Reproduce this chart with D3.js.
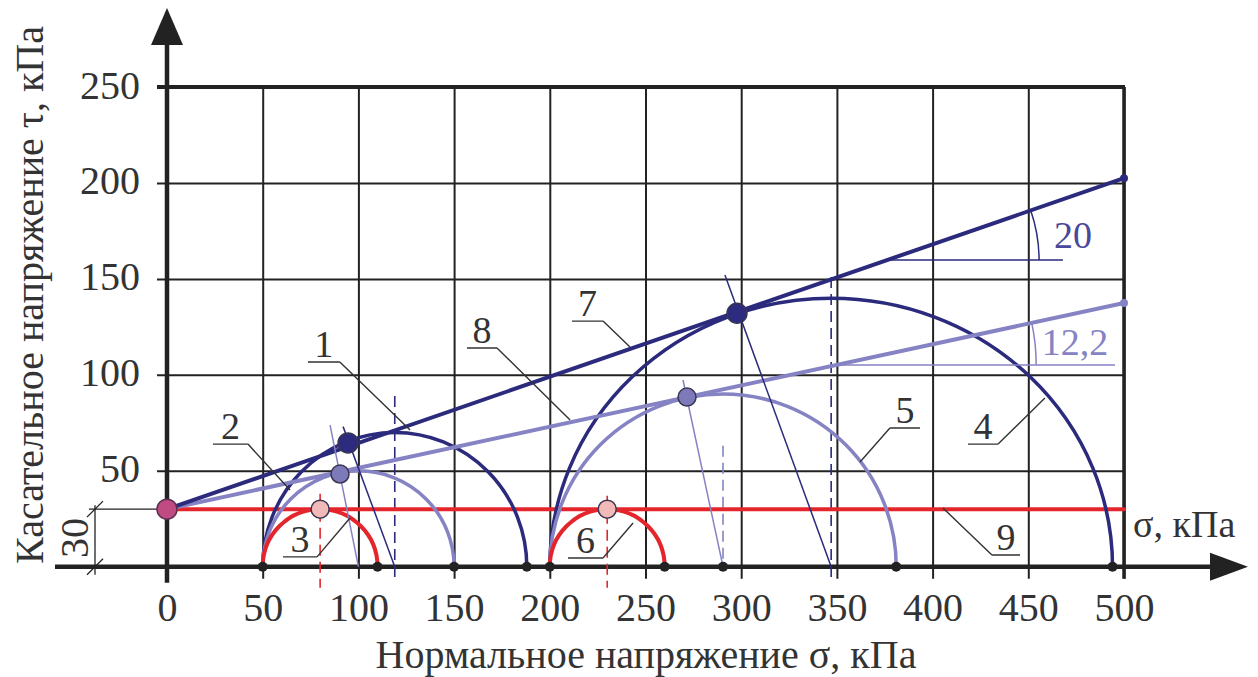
<!DOCTYPE html>
<html>
<head>
<meta charset="utf-8">
<script src="https://cdn.jsdelivr.net/npm/d3@7"></script>
<style>
  body { margin: 0; background: #fff; }
  text { font-family: "Liberation Serif", "DejaVu Serif", "Noto Serif", serif; }
</style>
</head>
<body>
<div id="mohr_chart"></div>
<script>
// tick values of both axes (kPa)
const sigmaTicks = [0, 50, 100, 150, 200, 250, 300, 350, 400, 450, 500]
const tauTicks = [50, 100, 150, 200, 250]

// Mohr semicircles: left end, right end and top
const circleNames = ["1", "2", "3", "4", "5", "6"]
const circleKind = ["navy", "lavender", "red", "navy", "lavender", "red"]
const circleLeft = [50, 50, 50, 200, 200, 200]
const circleRight = [188, 150, 110, 494, 381, 260]
const circleTop = [70, 50, 30, 140, 90, 30]

// tangent points of the circles with the envelopes
const tangentSigma = [94.6, 90.4, 80, 297.8, 271.7, 230]
const tangentTau = [64.5, 48.3, 30, 132.1, 88.4, 30]

// thin radius lines from the centre through the tangent point
const radiusEndSigma = [92, 85.2, null, 291.5, 269.6, null]
const radiusEndTau = [73, 73.8, null, 152, 97.3, null]

// dashed verticals through the centres
const dashTop = [89, null, 38, 151, 63, 37]
const dashBottom = [-5.5, null, -11, -5.5, 0, -11]

// strength envelopes: tau at sigma = 0 and sigma = 500
const envelopeNames = ["7", "8", "9"]
const envelopeKind = ["navy", "lavender", "red"]
const envelopeStart = [30, 30, 30]
const envelopeEnd = [202.5, 137.4, 30]

// friction angle marks
const angleLabels = ["20", "12,2"]
const angleKind = ["navy", "lavender"]
const angleRefTau = [159.8, 105.1]
const angleRefEnd = [468.1, 495.3]
const angleArcRadius = [79.4, 104.5]
const angleTextSigma = [473.3, 474.4]
const angleTextTau = [166.1, 110.3]

// points marked on the sigma axis
const axisDots = [50, 110, 150, 188, 200, 260, 290.5, 381, 494]

// numbered callouts: underline (left, right, tau) and pointer target
const calloutText = ["1", "2", "3", "4", "5", "6", "7", "8", "9"]
const calloutLeft = [73.6, 24.0, 60.6, 418.5, 377.7, 209.5, 211.6, 156.7, 431.0]
const calloutRight = [90.3, 42.3, 78.4, 434.2, 393.4, 227.8, 227.8, 172.4, 445.7]
const calloutTau = [106.7, 63.9, 5.1, 63.9, 72.3, 4.5, 128.0, 114.0, 6.1]
const pointerSigma = [127.0, 64.3, 95.6, 458.7, 362.1, 243.5, 241.9, 210.6, 405.4]
const pointerTau = [71.2, 40.0, 25.4, 87.9, 54.6, 22.8, 114.5, 76.5, 30.6]

const colors = { navy: "#2b2a7c", lavender: "#8583c4", red: "#e4262c" }
const ink = "#222"
const serif = '"Liberation Serif", "DejaVu Serif", "Noto Serif", serif'

const W = 1258, H = 677

const svg = d3.select("#mohr_chart")
  .append("svg")
    .attr("width", W)
    .attr("height", H)
    .style("display", "block")
    .style("background", "#fff")

// scales (same kPa/px on both axes)
const x = d3.scaleLinear().domain([0, 500]).range([167, 1124])
const y = d3.scaleLinear().domain([0, 250]).range([566.7, 87])

const gridH = y(0) - y(250)
const gridW = x(500) - x(0)

// vertical grid + sigma tick labels
const xAxis = svg.append("g")
    .attr("transform", `translate(0,${y(0)})`)
    .call(d3.axisBottom(x).tickValues(sigmaTicks).tickSizeOuter(0))
xAxis.attr("font-family", serif)
xAxis.select(".domain").remove()
xAxis.selectAll(".tick line")
    .attr("y1", 12).attr("y2", -gridH)
    .attr("stroke", ink).attr("stroke-width", 2)
xAxis.selectAll(".tick text")
    .attr("y", 54).attr("dy", 0)
    .attr("fill", "#333")
    .style("font-size", "40px")

// horizontal grid + tau tick labels
const yAxis = svg.append("g")
    .attr("transform", `translate(${x(0)},0)`)
    .call(d3.axisLeft(y).tickValues(tauTicks).tickSizeOuter(0))
yAxis.attr("font-family", serif)
yAxis.select(".domain").remove()
yAxis.selectAll(".tick line")
    .attr("x1", -10).attr("x2", gridW)
    .attr("stroke", ink).attr("stroke-width", 2)
yAxis.selectAll(".tick text")
    .attr("x", -27).attr("dy", 11)
    .attr("fill", "#333")
    .style("font-size", "40px")

// heavy frame on top and right
svg.append("line")
    .attr("x1", x(0) - 10).attr("x2", x(500) + 1)
    .attr("y1", y(250)).attr("y2", y(250))
    .attr("stroke", ink).attr("stroke-width", 4)
svg.append("line")
    .attr("x1", x(500)).attr("x2", x(500))
    .attr("y1", y(250)).attr("y2", y(0) + 12)
    .attr("stroke", ink).attr("stroke-width", 3.5)

// main axes with arrows
svg.append("line")
    .attr("x1", 55).attr("x2", 1215)
    .attr("y1", y(0)).attr("y2", y(0))
    .attr("stroke", ink).attr("stroke-width", 4.5)
svg.append("path")
    .attr("d", `M1248,${y(0)} L1210,${y(0) - 14} L1210,${y(0) + 14} Z`)
    .attr("fill", ink)
svg.append("line")
    .attr("x1", x(0)).attr("x2", x(0))
    .attr("y1", y(0) + 16).attr("y2", 40)
    .attr("stroke", ink).attr("stroke-width", 4.5)
svg.append("path")
    .attr("d", `M${x(0)},8 L${x(0) - 16},45 L${x(0) + 16},45 Z`)
    .attr("fill", ink)

// dimension "30" on the left
const dimX = x(0) - 72
svg.append("line")
    .attr("x1", dimX - 6).attr("x2", x(0))
    .attr("y1", y(30)).attr("y2", y(30))
    .attr("stroke", ink).attr("stroke-width", 1.3)
svg.append("line")
    .attr("x1", dimX).attr("x2", dimX)
    .attr("y1", y(30) - 4).attr("y2", y(0) + 8)
    .attr("stroke", ink).attr("stroke-width", 1.3)
;[30, 0].forEach(v => {
  svg.append("line")
      .attr("x1", dimX - 8).attr("x2", dimX + 8)
      .attr("y1", y(v) + 8).attr("y2", y(v) - 8)
      .attr("stroke", ink).attr("stroke-width", 1.3)
})
svg.append("text")
    .attr("transform", `translate(${dimX - 7},${(y(30) + y(0)) / 2}) rotate(-90)`)
    .attr("text-anchor", "middle")
    .attr("fill", "#333")
    .style("font-size", "40px")
    .text("30")

// axis titles
svg.append("text")
    .attr("transform", `translate(43,${(20 + 570) / 2}) rotate(-90)`)
    .attr("text-anchor", "middle")
    .attr("fill", "#333")
    .style("font-size", "40px")
    .text("Касательное напряжение τ, кПа")
svg.append("text")
    .attr("x", 646).attr("y", 668)
    .attr("text-anchor", "middle")
    .attr("fill", "#333")
    .style("font-size", "40px")
    .text("Нормальное напряжение σ, кПа")
svg.append("text")
    .attr("x", 1133).attr("y", 537)
    .attr("fill", "#333")
    .style("font-size", "38px")
    .text("σ, кПа")

// dashed verticals through the circle centres
circleNames.forEach((n, i) => {
  if (dashTop[i] == null) return
  const c = (circleLeft[i] + circleRight[i]) / 2
  svg.append("line")
      .attr("x1", x(c)).attr("x2", x(c))
      .attr("y1", y(dashTop[i])).attr("y2", y(dashBottom[i]))
      .attr("stroke", colors[circleKind[i]])
      .attr("stroke-width", 1.6)
      .attr("stroke-dasharray", "11,6")
})

// red envelope first, then the circles and sloped envelopes
function drawEnvelope(i) {
  svg.append("line")
      .attr("x1", x(0)).attr("y1", y(envelopeStart[i]))
      .attr("x2", x(500)).attr("y2", y(envelopeEnd[i]))
      .attr("stroke", colors[envelopeKind[i]])
      .attr("stroke-width", 4)
      .attr("stroke-linecap", "round")
}
drawEnvelope(2)

circleNames.forEach((n, i) => {
  const rx = (x(circleRight[i]) - x(circleLeft[i])) / 2
  const ry = y(0) - y(circleTop[i])
  svg.append("path")
      .attr("d", `M${x(circleLeft[i])},${y(0)} A${rx},${ry} 0 0 1 ${x(circleRight[i])},${y(0)}`)
      .attr("fill", "none")
      .attr("stroke", colors[circleKind[i]])
      .attr("stroke-width", circleKind[i] == "red" ? 4 : 3.5)
})

drawEnvelope(1)
drawEnvelope(0)

// small end dots of the sloped envelopes
;[0, 1].forEach(i => {
  svg.append("circle")
      .attr("cx", x(500)).attr("cy", y(envelopeEnd[i])).attr("r", 4)
      .attr("fill", colors[envelopeKind[i]])
})

// thin radius lines
circleNames.forEach((n, i) => {
  if (radiusEndSigma[i] == null) return
  const c = (circleLeft[i] + circleRight[i]) / 2
  svg.append("line")
      .attr("x1", x(c)).attr("y1", y(0))
      .attr("x2", x(radiusEndSigma[i])).attr("y2", y(radiusEndTau[i]))
      .attr("stroke", colors[circleKind[i]])
      .attr("stroke-width", 1.5)
})

// angle marks
angleLabels.forEach((lab, i) => {
  const slope = (envelopeEnd[i] - envelopeStart[i]) / 500
  const s0 = (angleRefTau[i] - envelopeStart[i]) / slope
  const cx = x(s0), cy = y(angleRefTau[i])
  const R = x(angleArcRadius[i]) - x(0)
  const th = Math.atan2(y(envelopeStart[i]) - y(envelopeEnd[i]), x(500) - x(0))
  svg.append("line")
      .attr("x1", cx).attr("x2", x(angleRefEnd[i]))
      .attr("y1", cy).attr("y2", cy)
      .attr("stroke", colors[angleKind[i]])
      .attr("stroke-width", 1.5)
  svg.append("path")
      .attr("d", `M${cx + R},${cy} A${R},${R} 0 0 0 ${cx + R * Math.cos(th)},${cy - R * Math.sin(th)}`)
      .attr("fill", "none")
      .attr("stroke", colors[angleKind[i]])
      .attr("stroke-width", 1.5)
  svg.append("text")
      .attr("x", x(angleTextSigma[i])).attr("y", y(angleTextTau[i]))
      .attr("text-anchor", "middle")
      .attr("fill", i == 0 ? "#4a489a" : colors.lavender)
      .style("font-size", "38px")
      .text(lab)
})

// dots on the sigma axis
svg.selectAll(".axisdot")
  .data(axisDots)
  .enter().append("circle")
    .attr("cx", d => x(d)).attr("cy", y(0)).attr("r", 5)
    .attr("fill", ink)

// tangent points
const dotFill = { navy: "#2d2b80", lavender: "#7c7ab8", red: "#f2b9b9" }
circleNames.forEach((n, i) => {
  svg.append("circle")
      .attr("cx", x(tangentSigma[i])).attr("cy", y(tangentTau[i]))
      .attr("r", circleKind[i] == "navy" ? 10 : 9)
      .attr("fill", dotFill[circleKind[i]])
      .attr("stroke", "#3a3550")
      .attr("stroke-width", 1.5)
})
// cohesion point on the tau axis
svg.append("circle")
    .attr("cx", x(0)).attr("cy", y(30)).attr("r", 10)
    .attr("fill", "#c04a82")
    .attr("stroke", "#5a3050")
    .attr("stroke-width", 1.5)

// numbered callouts
calloutText.forEach((t, i) => {
  const yl = y(calloutTau[i])
  const fromX = pointerSigma[i] < calloutLeft[i] ? x(calloutLeft[i]) : x(calloutRight[i])
  svg.append("path")
      .attr("d", `M${x(calloutLeft[i])},${yl} L${x(calloutRight[i])},${yl} M${fromX},${yl} L${x(pointerSigma[i])},${y(pointerTau[i])}`)
      .attr("fill", "none")
      .attr("stroke", "#333")
      .attr("stroke-width", 1.4)
  svg.append("text")
      .attr("x", (x(calloutLeft[i]) + x(calloutRight[i])) / 2)
      .attr("y", yl - 5)
      .attr("text-anchor", "middle")
      .attr("fill", "#333")
      .style("font-size", "38px")
      .text(t)
})
</script>
</body>
</html>
